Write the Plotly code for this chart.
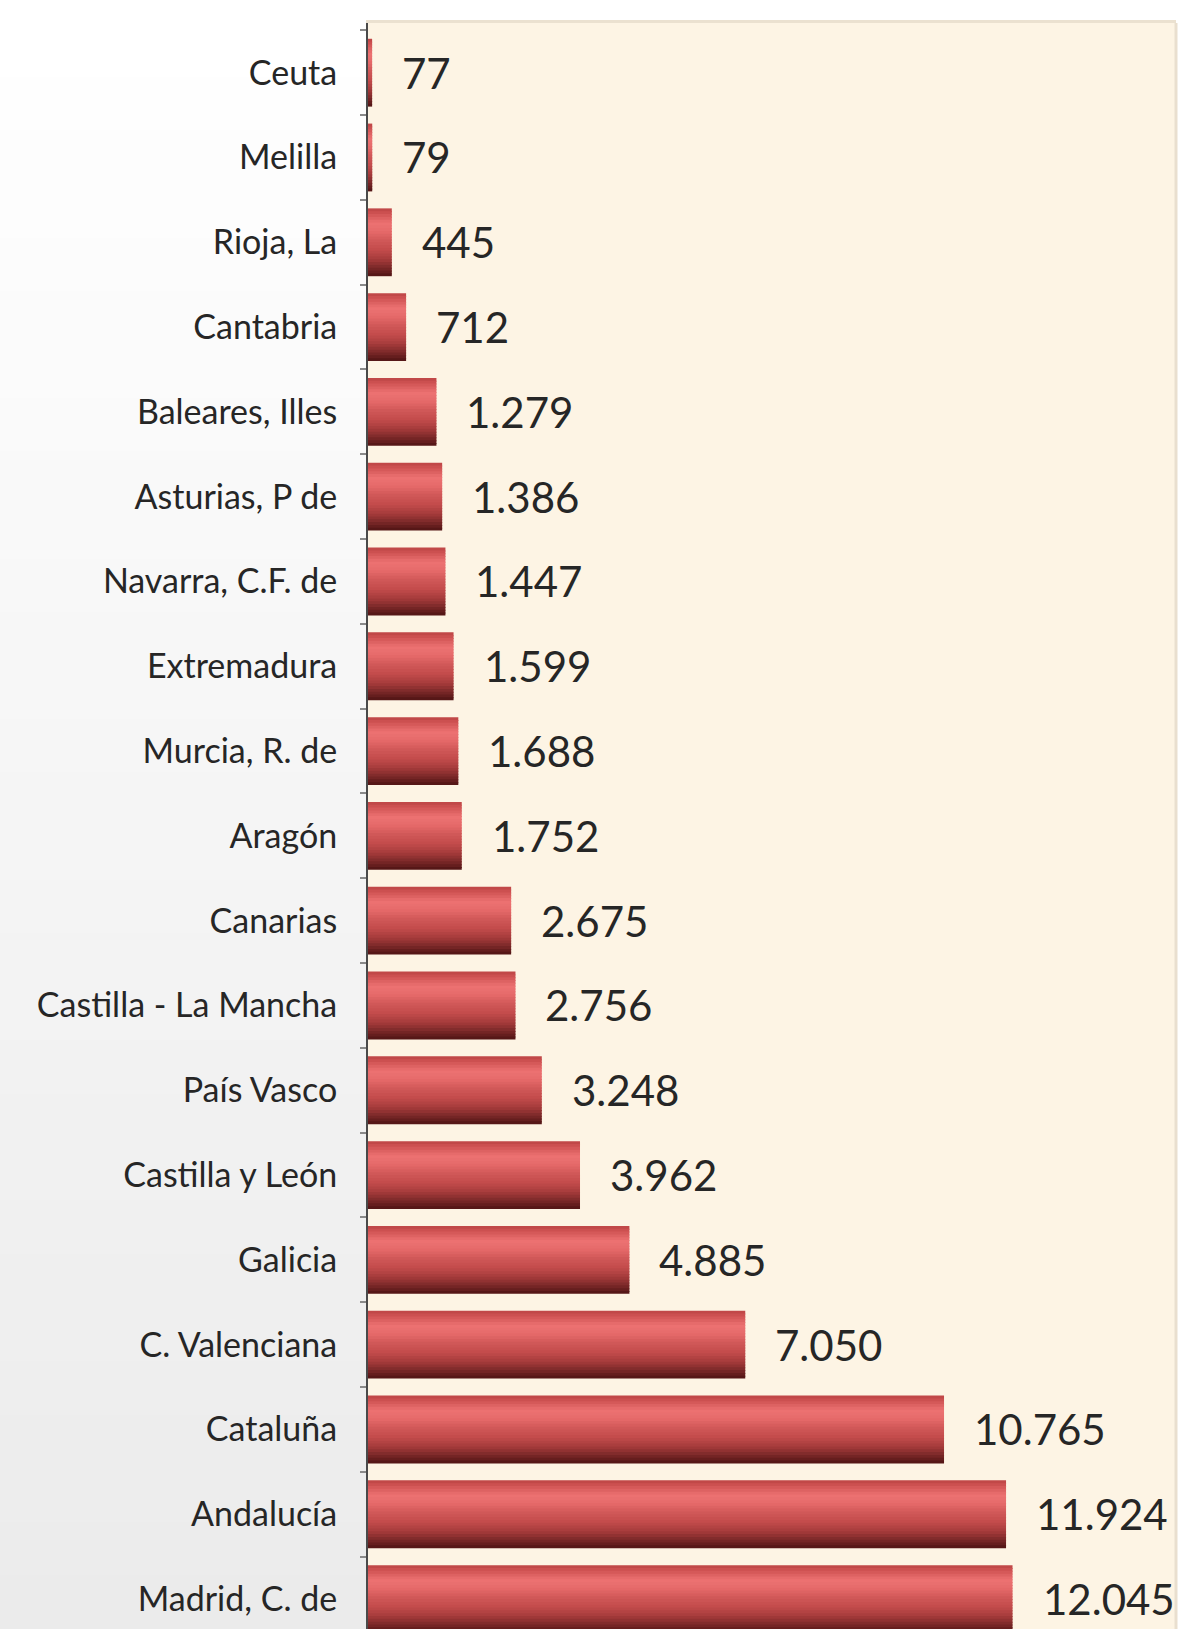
import plotly.graph_objects as go

# ---- data ----
regions = ["Ceuta", "Melilla", "Rioja, La", "Cantabria", "Baleares, Illes",
           "Asturias, P de", "Navarra, C.F. de", "Extremadura", "Murcia, R. de",
           "Aragón", "Canarias", "Castilla - La Mancha", "País Vasco",
           "Castilla y León", "Galicia", "C. Valenciana", "Cataluña",
           "Andalucía", "Madrid, C. de"]
values = [77, 79, 445, 712, 1279, 1386, 1447, 1599, 1688, 1752, 2675, 2756,
          3248, 3962, 4885, 7050, 10765, 11924, 12045]
value_labels = ["77", "79", "445", "712", "1.279", "1.386", "1.447", "1.599",
                "1.688", "1.752", "2.675", "2.756", "3.248", "3.962", "4.885",
                "7.050", "10.765", "11.924", "12.045"]

# ---- style helpers ----
def hex2rgb(h):
    h = h.lstrip("#")
    return tuple(int(h[i:i + 2], 16) for i in (0, 2, 4))

stops = [(0.0, "#bc4444"), (0.08, "#d05454"), (0.22, "#ec7272"), (0.34, "#e66a6a"),
         (0.48, "#d05858"), (0.62, "#c24b4b"), (0.76, "#a33a3a"), (0.89, "#762626"),
         (1.0, "#4e1313")]

def color_at(t):
    for (t0, c0), (t1, c1) in zip(stops[:-1], stops[1:]):
        if t0 <= t <= t1:
            f = (t - t0) / (t1 - t0) if t1 > t0 else 0
            a, b = hex2rgb(c0), hex2rgb(c1)
            r = [round(a[k] + (b[k] - a[k]) * f) for k in range(3)]
            return "rgb(%d,%d,%d)" % tuple(r)
    return stops[-1][1]

fig = go.Figure()

BAR_W = 0.8
N = 24
step = BAR_W / N
for i in range(N):
    t = (i + 0.5) / N
    fig.add_trace(go.Bar(
        x=values, y=regions, orientation="h",
        offset=-BAR_W / 2 + i * step,
        width=step * (1.35 if i < N - 1 else 1.0),
        marker=dict(color=color_at(t), line=dict(width=0)),
        hoverinfo="skip", showlegend=False,
    ))

for v, r, lab in zip(values, regions, value_labels):
    fig.add_annotation(x=v, y=r, text=lab, showarrow=False, xanchor="left",
                       yanchor="middle", xshift=28, yshift=0,
                       font=dict(family="Lato", size=42, color="#262626"))

# left-side background gradient (white at top to light grey at bottom)
n_strips = 30
left_x0 = -368 / 808
for k in range(n_strips):
    y0 = k / n_strips
    y1 = (k + 1) / n_strips
    tt = 1 - (y0 + y1) / 2
    g = round(255 - 20 * tt)
    fig.add_shape(type="rect", xref="paper", yref="paper",
                  x0=left_x0, x1=0, y0=y0, y1=y1 + 0.002,
                  fillcolor="rgb(%d,%d,%d)" % (g, g, g), line=dict(width=0),
                  layer="below")

# faint border on the right side of plot area
fig.add_shape(type="line", xref="paper", yref="paper", x0=1, x1=1, y0=0, y1=1,
              line=dict(color="#e9dfcf", width=3))

fig.update_layout(
    width=1188, height=1629,
    margin=dict(l=368, r=12, t=23, b=0),
    paper_bgcolor="#ffffff",
    plot_bgcolor="#fdf4e4",
    barmode="overlay",
    showlegend=False,
    xaxis=dict(range=[0, 15100], showgrid=False, zeroline=False,
               showticklabels=False, ticks="", showline=True, mirror=True,
               linecolor="#ebe1d0", linewidth=3),
    yaxis=dict(type="category", categoryorder="array", categoryarray=regions,
               range=[18.353, -0.586], showgrid=False, zeroline=False,
               showline=True, linecolor="#4a4a4a", linewidth=2,
               ticks="outside", tickson="boundaries", ticklen=6,
               tickcolor="#8a8a8a", tickwidth=2, ticklabelstandoff=22,
               tickfont=dict(family="Lato", size=34, color="#262626")),
)

fig.write_html("out.html")
